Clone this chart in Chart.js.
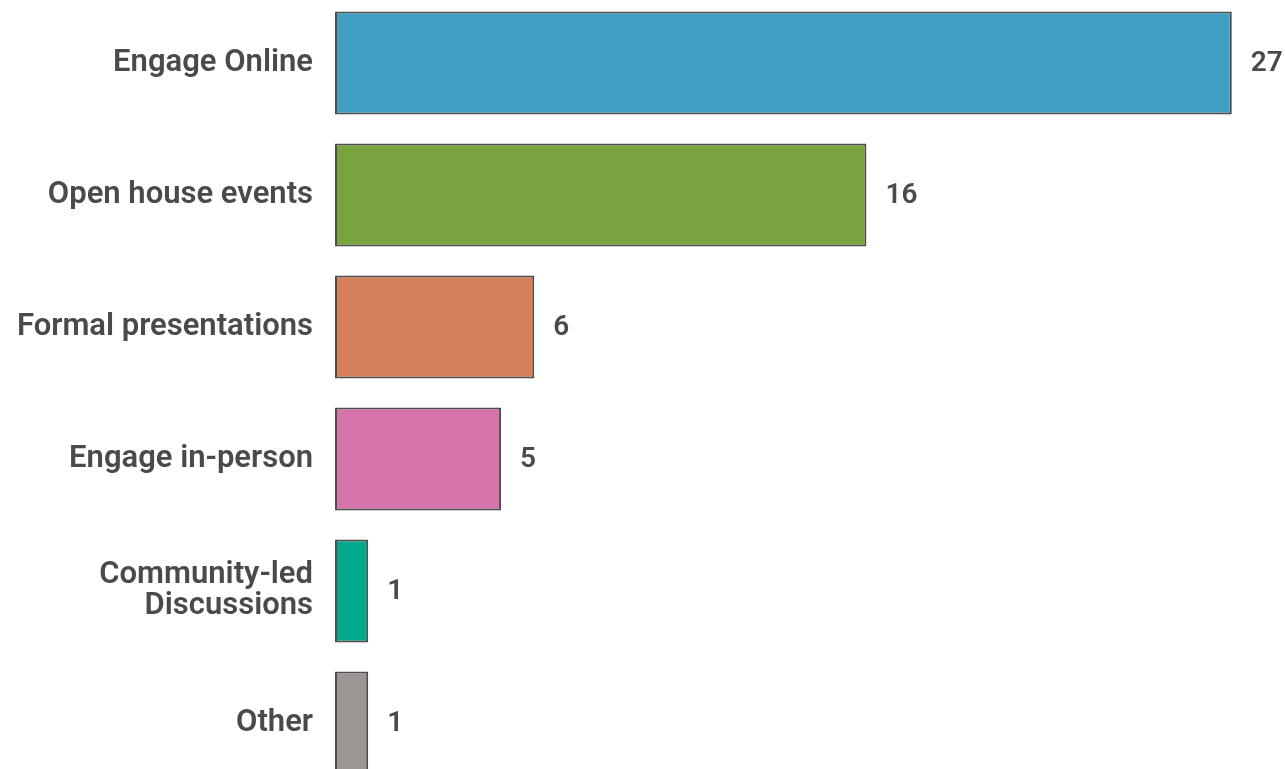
<!DOCTYPE html>
<html>
<head>
<meta charset="utf-8">
<script src="https://cdn.jsdelivr.net/npm/chart.js@4/dist/chart.umd.min.js"></script>
<style>
  html, body { margin: 0; padding: 0; background: #ffffff; overflow: hidden; width: 1285px; height: 769px; }
  #c { position: absolute; left: 0; top: -3px; }
</style>
</head>
<body>
<canvas id="c" width="1285" height="792" style="width:1285px;height:792px"></canvas>
<script>
const categories = ['Engage Online', 'Open house events', 'Formal presentations', 'Engage in-person', ['Community-led', 'Discussions'], 'Other'];
const values = [27, 16, 6, 5, 1, 1];
const barColors = ['#429fc4', '#78a33e', '#d5805b', '#d673ab', '#00a88c', '#9b9594'];

const FONT = 'Roboto, "Noto Sans", sans-serif';
const TEXT = '#4a4a4a';

const valueLabels = {
  id: 'valueLabels',
  afterDatasetsDraw(chart) {
    const ctx = chart.ctx;
    const meta = chart.getDatasetMeta(0);
    ctx.save();
    ctx.font = '600 28px ' + FONT;
    ctx.fillStyle = TEXT;
    ctx.textAlign = 'left';
    ctx.textBaseline = 'middle';
    meta.data.forEach((bar, i) => {
      ctx.fillText(String(values[i]), bar.x + 19, bar.y + 1);
    });
    ctx.restore();
  }
};

new Chart(document.getElementById('c'), {
  type: 'bar',
  data: {
    labels: categories,
    datasets: [{
      data: values,
      backgroundColor: barColors,
      borderColor: '#4d4d4d',
      borderWidth: 2,
      borderSkipped: false,
      categoryPercentage: 1.0,
      barPercentage: 0.78
    }]
  },
  options: {
    indexAxis: 'y',
    responsive: false,
    maintainAspectRatio: false,
    animation: false,
    devicePixelRatio: 1,
    layout: { padding: { left: 0, right: 20, top: 0, bottom: 0 } },
    plugins: { legend: { display: false }, tooltip: { enabled: false } },
    scales: {
      x: {
        display: false,
        min: 0,
        max: 28
      },
      y: {
        grid: { display: false, drawTicks: false },
        border: { display: false },
        ticks: {
          color: TEXT,
          font: { family: FONT, size: 31, weight: '600', lineHeight: 1.0 },
          padding: 22,
          autoSkip: false
        },
        afterFit(scale) { scale.width = 335; scale.paddingTop = 0; scale.paddingBottom = 0; }
      }
    }
  },
  plugins: [valueLabels]
});
</script>
</body>
</html>
